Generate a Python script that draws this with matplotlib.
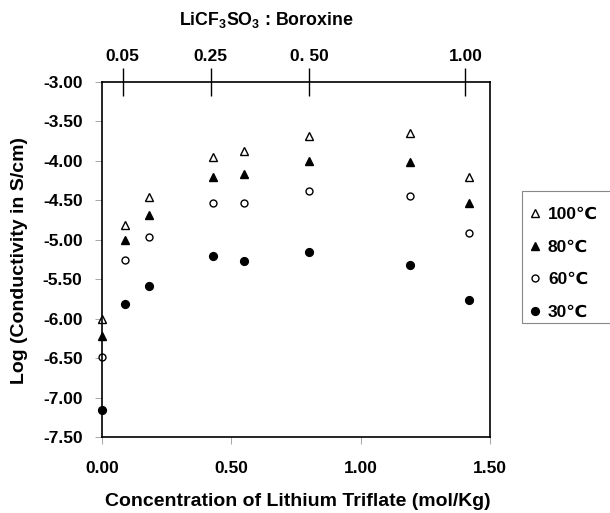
import numpy as np
import matplotlib
matplotlib.use("Agg")
import matplotlib.pyplot as plt
from matplotlib.patches import Rectangle

plt.rcParams['font.family'] = ['Liberation Sans', 'DejaVu Sans']
plt.rcParams['font.weight'] = 'bold'
plt.rcParams['mathtext.fontset'] = 'custom'
plt.rcParams['mathtext.rm'] = 'Liberation Sans:bold'
plt.rcParams['mathtext.default'] = 'rm'

# concentration of lithium triflate (mol/Kg)
conc = [0.00, 0.09, 0.18, 0.43, 0.55, 0.80, 1.19, 1.42]
# log conductivity (S/cm)
t100 = [-6.00, -4.81, -4.46, -3.95, -3.87, -3.69, -3.65, -4.21]
t80 = [-6.22, -5.00, -4.68, -4.20, -4.16, -4.00, -4.01, -4.53]
t60 = [-6.49, -5.26, -4.96, -4.54, -4.53, -4.38, -4.45, -4.92]
t30 = [-7.16, -5.81, -5.58, -5.20, -5.27, -5.15, -5.32, -5.76]
labels = ['100\u2103', '80\u2103', '60\u2103', '30\u2103']

# top axis: LiCF3SO3 : Boroxine ratio
ratio_pos = [0.08, 0.42, 0.80, 1.405]
ratio_lbl = ['0.05', '0.25', '0. 50', '1.00']

xticks = [0.0, 0.5, 1.0, 1.5]
yticks = np.arange(-7.5, -2.99, 0.5)

fig = plt.figure(figsize=(6.10, 5.13), dpi=100)
ax = fig.add_axes([102/610, 1-437/513, 388/610, 355/513])

ax.plot(conc, t100, ls='none', marker='^', ms=5.2, mfc='white', mec='black', mew=1.0, label=labels[0], clip_on=False)
ax.plot(conc, t80, ls='none', marker='^', ms=5.2, mfc='black', mec='black', mew=1.0, label=labels[1], clip_on=False)
ax.plot(conc, t60, ls='none', marker='o', ms=5.0, mfc='white', mec='black', mew=1.0, label=labels[2], clip_on=False)
ax.plot(conc, t30, ls='none', marker='o', ms=5.6, mfc='black', mec='black', mew=1.0, label=labels[3], clip_on=False)

ax.set_xlim(0, 1.5)
ax.set_ylim(-7.5, -3.0)
ax.set_xticks(xticks)
ax.set_xticklabels(['%.2f' % v for v in xticks])
ax.set_yticks(yticks)
ax.set_yticklabels(['%.2f' % v for v in yticks])
ax.tick_params(axis='x', direction='out', length=5, width=0.6, color='#999999', pad=12, labelsize=12.5)
ax.tick_params(axis='y', direction='out', length=5, width=0.6, color='#999999', pad=9, labelsize=12.5)
for s in ax.spines.values():
    s.set_linewidth(1.2)

top = ax.secondary_xaxis('top')
top.set_xticks(ratio_pos)
top.set_xticklabels(ratio_lbl)
top.tick_params(direction='inout', length=20, width=1.0, color='black', pad=3, labelsize=12.5)
top.spines['top'].set_visible(False)

fig.text(298/610, 1-502/513, 'Concentration of Lithium Triflate (mol/Kg)',
         ha='center', va='center', fontsize=14)
fig.text(20/610, 1-260/513, 'Log (Conductivity in S/cm)', rotation=90,
         ha='center', va='center', fontsize=14)
fig.text(266/610, 1-20/513, 'LiCF$_3$SO$_3$ : Boroxine', ha='center', va='center', fontsize=12.8)

# legend box runs past the right edge of the picture
fig.patches.append(Rectangle((521.7/610, 1-322.7/513), 100/610, 131.7/513,
                             transform=fig.transFigure, fill=False, ec='#888888', lw=0.8))
fig.legend(loc='upper left', bbox_to_anchor=(528/610, 1-207/513), frameon=False,
           fontsize=12.5, handlelength=0.8, handletextpad=0.35, labelspacing=1.0,
           borderpad=0, borderaxespad=0, numpoints=1)

fig.savefig('out.png', dpi=100)
